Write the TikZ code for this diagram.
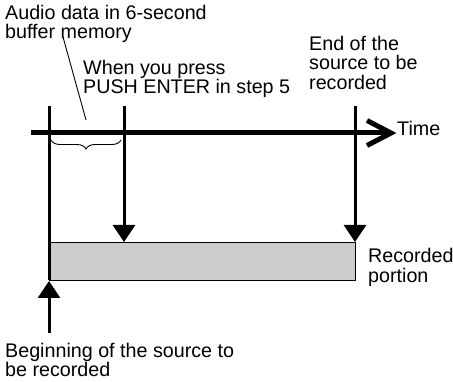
\documentclass[tikz,border=0pt]{standalone}
\usepackage{fontspec}
\setmainfont{Liberation Sans}
\usetikzlibrary{arrows.meta,decorations.pathreplacing}
\begin{document}
\begin{tikzpicture}[x=1pt,y=-1pt,
  lbl/.style={inner sep=0pt, anchor=base west, align=left,
    font=\fontsize{19.7}{19.5}\selectfont},
  vline/.style={line width=3pt},
  downarr/.style={line width=3pt, -{Triangle[length=17pt,width=22pt]}},
  thin/.style={line width=0.9pt}]
\useasboundingbox (0,0) rectangle (453,382);
% coordinates
\coordinate (axL) at (31,133);
\coordinate (axR) at (388,133);
\coordinate (tipT) at (391,133);
\coordinate (chA) at (367,120.5);
\coordinate (chB) at (367,145.5);
\coordinate (lTop) at (49,106);
\coordinate (lBot) at (49,280);
\coordinate (mTop) at (124,106);
\coordinate (mBot) at (124,242);
\coordinate (rTop) at (355,106);
\coordinate (rBot) at (355,242);
\coordinate (bTail) at (49,333);
\coordinate (bTip) at (49,281);
\coordinate (ldA) at (63,37);
\coordinate (ldB) at (86,120);
\coordinate (brL) at (51,140);
\coordinate (brR) at (121,140);
% box
\node (box) [draw, thin, fill=gray!40, inner sep=0pt, minimum width=306pt,
  minimum height=38pt, anchor=north west] at (49,242) {};
% axis
\draw[line width=5pt] (axL) -- (axR);
\draw[line width=5pt, line join=miter] (chA) -- (tipT) -- (chB);
% vertical lines
\draw[vline] (lTop) -- (lBot);
\draw[downarr] (mTop) -- (mBot);
\draw[downarr] (rTop) -- (rBot);
\draw[downarr] (bTail) -- (bTip);
% leader and brace
\draw[thin] (ldA) -- (ldB);
\draw[thin, decorate, decoration={brace, amplitude=9pt, mirror}] (brL) -- (brR);
% labels (base anchor = baseline of the last line)
\node[lbl] (audio) at (5,39) {Audio data in 6-second\\buffer memory};
\node[lbl] (press) at (83,94) {When you press\\PUSH ENTER in step 5};
\node[lbl] (endsrc) at (309,89.5) {End of the\\source to be\\recorded};
\node[lbl] (time) at (397,136) {Time};
\node[lbl] (recorded) at (368,282.5) {Recorded\\portion};
\node[lbl] (begin) at (5,377) {Beginning of the source to\\be recorded};
\end{tikzpicture}
\end{document}
